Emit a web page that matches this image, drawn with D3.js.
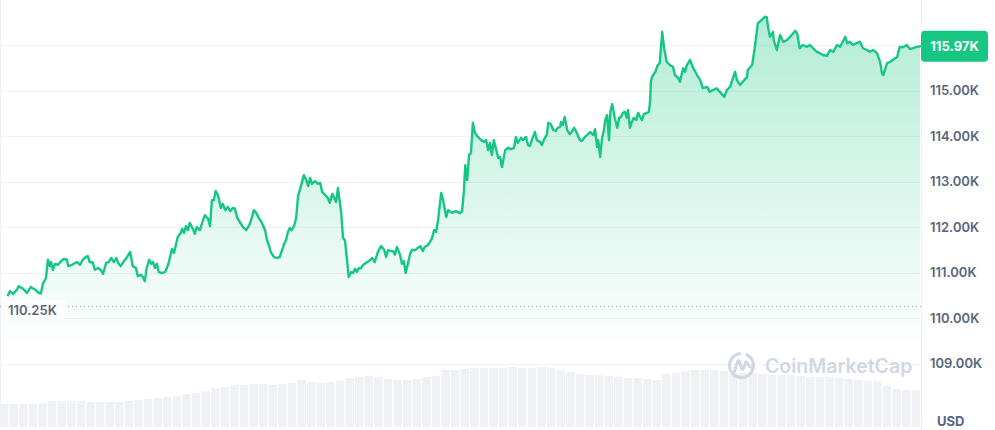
<!DOCTYPE html>
<html>
<head>
<meta charset="utf-8">
<script src="https://cdn.jsdelivr.net/npm/d3@7"></script>
<style>
  html, body { margin: 0; padding: 0; background: #fff; }
  svg { display: block; font-family: Inter, "Noto Sans", sans-serif; }
</style>
</head>
<body>
<svg id="chart" width="995" height="430"></svg>
<script>
// ---- DATA (minutes since start of 24h window, price in USD) ----
const times = [
  0,3,8,14,17,24,30,36,43,49,
  52,55,60,63,66,68,71,74,79,84,
  88,93,95,101,106,109,114,118,123,126,
  129,134,137,142,147,150,155,159,163,167,
  171,174,178,182,186,193,197,202,205,210,
  213,216,219,223,226,229,232,235,238,243,
  248,251,254,259,262,265,268,272,275,278,
  281,284,287,292,295,298,303,308,311,316,
  319,322,325,328,332,336,339,343,347,351,
  355,358,362,366,371,376,381,385,388,392,
  396,401,406,409,412,415,420,425,429,433,
  436,439,442,445,448,452,455,458,463,467,
  471,474,477,480,485,489,493,496,501,505,
  508,512,515,518,521,526,529,532,535,538,
  542,545,548,551,554,557,561,565,570,575,
  579,584,589,594,597,600,605,608,611,614,
  619,622,625,628,632,635,638,643,647,651,
  655,658,663,666,669,673,676,679,684,687,
  692,695,701,707,714,717,720,722,725,728,
  731,734,737,742,747,752,755,758,761,764,
  767,771,774,777,780,785,790,794,799,802,
  805,810,813,818,821,824,827,832,835,840,
  843,846,851,853,857,861,865,868,872,873,
  876,879,883,887,890,894,898,903,906,911,
  916,919,924,927,930,932,935,938,941,943,
  946,949,951,954,958,962,965,968,971,974,
  977,979,982,985,988,992,995,998,1001,1004,
  1009,1012,1014,1015,1017,1022,1026,1029,1033,1036,
  1040,1045,1050,1053,1058,1061,1066,1069,1072,1077,
  1082,1088,1093,1097,1104,1108,1113,1119,1124,1131,
  1135,1140,1148,1151,1156,1160,1167,1168,1175,1179,
  1184,1190,1195,1198,1200,1203,1208,1209,1214,1219,
  1224,1230,1235,1243,1246,1250,1255,1262,1266,1271,
  1277,1282,1287,1293,1298,1303,1309,1314,1322,1325,
  1329,1334,1340,1345,1350,1356,1361,1366,1372,1377,
  1380,1382,1388,1393,1397,1404,1408,1413,1419,1424,
  1429,1435,1440
];
const prices = [
  110500,110590,110530,110620,110700,110640,110550,110680,110620,110550,
  110540,110750,110880,111280,111140,111230,111060,111190,111170,111250,
  111300,111280,111140,111170,111210,111230,111170,111280,111340,111360,
  111230,111220,111060,111100,111050,110970,111210,111230,111320,111230,
  111320,111210,111140,111230,111300,111450,111140,111100,110920,110950,
  110900,110810,111100,111280,111190,111230,111100,111190,111010,110990,
  111010,111100,111230,111520,111430,111600,111780,111850,111960,111870,
  112020,111930,112090,111960,111850,112000,111930,112150,112260,112180,
  112020,112590,112590,112790,112680,112420,112510,112370,112440,112350,
  112420,112410,112200,112110,112000,111930,112040,112200,112370,112310,
  112200,112090,111930,111710,111600,111450,111340,111320,111340,111500,
  111630,111710,111890,111980,111930,112040,112200,112680,112920,113140,
  113030,112900,113080,112950,113010,112950,112970,112770,112700,112640,
  112530,112730,112640,112550,112860,112330,111760,111710,111320,110900,
  111010,110990,111080,111010,111100,111090,111170,111210,111250,111320,
  111230,111450,111580,111500,111340,111490,111470,111470,111390,111560,
  111390,111190,111250,110990,111230,111410,111500,111490,111540,111580,
  111470,111560,111600,111670,111740,111930,111890,112150,112750,112590,
  112220,112370,112310,112350,112300,112350,112810,113360,113030,113580,
  113630,114290,114070,113980,113910,113870,113910,113690,113850,113580,
  113910,113690,113520,113540,113320,113690,113740,113710,113740,113980,
  113850,113960,113910,113980,113800,113780,113910,114090,113910,113870,
  113800,113910,114040,114290,114260,114130,114110,114180,114200,114310,
  114240,114420,114130,114040,114090,114180,114070,113910,113890,113980,
  114040,114090,114020,114150,113760,113910,113540,113960,114130,114350,
  114460,113910,114530,114700,114400,114180,114400,114420,114510,114530,
  114400,114570,114180,114310,114400,114350,114510,114420,114350,114480,
  114510,114530,114790,115190,115300,115410,115560,115600,116290,115930,
  115630,115560,115520,115340,115280,115190,115490,115410,115560,115670,
  115490,115340,115230,115050,115080,114970,115010,115050,114970,114860,
  115010,115080,115410,115230,115120,115190,115300,115450,115560,115930,
  116480,116550,116620,116610,116400,116180,116290,116110,115890,116220,
  116070,116110,116180,116310,116260,115930,116000,115960,116000,115930,
  115850,115820,115780,115760,115890,115850,116000,115960,116180,116040,
  116070,116000,116040,116070,115930,115890,115850,115890,115820,115630,
  115380,115340,115600,115630,115670,115740,115960,115950,116000,115910,
  115930,115960,115970
];
// trading volume per 15-minute bucket (relative units)
const volumes = [
  23,23,23,23,24,26,26,26,26,25,25,25,25,26,27,28,29,30,31,33,
  34,36,39,40,42,42,43,43,42,43,44,47,45,44,45,46,49,50,51,50,
  48,47,47,48,50,51,57,57,58,59,59,59,59,60,59,59,60,59,57,55,
  53,52,52,51,50,49,49,48,47,53,54,56,57,57,57,56,54,54,54,53,
  52,52,52,51,50,50,50,49,48,47,46,46,41,38,37,37
];
const yTickValues = [109000,110000,111000,112000,113000,114000,115000];
const gridValues  = [109000,110000,111000,112000,113000,114000,115000,116000];
const openPrice = 110250;
const lastPrice = 115970;
const currencyLabel = "USD";
const watermarkText = "CoinMarketCap";

// ---- LAYOUT ----
const W = 995, H = 430;
const plotRight = 921;
const chartBottom = 427;
const green = "#16c784";
const labelGrey = "#58667e";
const gridGrey = "#eff2f5";

const fmtK = v => (v / 1000).toFixed(2) + "K";

const svg = d3.select("#chart");
svg.append("rect").attr("width", W).attr("height", H).attr("fill", "#fff");

const x = d3.scaleLinear().domain([0, 1440]).range([8, 920]);
const y = d3.scaleLinear().domain([109000, 116000]).range([363.5, 45]);

const data = times.map((t, i) => ({ t, p: prices[i] }));

// gradient
const defs = svg.append("defs");
const grad = defs.append("linearGradient")
  .attr("id", "areaGrad")
  .attr("gradientUnits", "userSpaceOnUse")
  .attr("x1", 0).attr("x2", 0)
  .attr("y1", y(d3.max(prices))).attr("y2", y(109300));
grad.append("stop").attr("offset", "0%").attr("stop-color", green).attr("stop-opacity", 0.33);
grad.append("stop").attr("offset", "100%").attr("stop-color", green).attr("stop-opacity", 0.0);

// gridlines
svg.append("g").selectAll("line").data(gridValues).join("line")
  .attr("x1", 0).attr("x2", plotRight)
  .attr("y1", d => Math.round(y(d)) + 0.5)
  .attr("y2", d => Math.round(y(d)) + 0.5)
  .attr("stroke", gridGrey).attr("stroke-width", 1);

// borders
svg.append("line").attr("x1", 0.5).attr("x2", 0.5).attr("y1", 0).attr("y2", chartBottom)
  .attr("stroke", gridGrey);
svg.append("line").attr("x1", plotRight + 0.5).attr("x2", plotRight + 0.5).attr("y1", 0).attr("y2", H)
  .attr("stroke", gridGrey);

// area
const area = d3.area()
  .x(d => x(d.t))
  .y0(y(109300))
  .y1(d => y(d.p));
svg.append("path").datum(data).attr("d", area).attr("fill", "url(#areaGrad)");

// volume bars
const xv = d3.scaleBand().domain(d3.range(volumes.length)).range([0, 920]).paddingInner(0.12);
const hv = d3.scaleLinear().domain([0, 60]).range([0, 60]);
svg.append("g").selectAll("rect").data(volumes).join("rect")
  .attr("x", (d, i) => xv(i))
  .attr("width", xv.bandwidth())
  .attr("y", d => chartBottom - hv(d))
  .attr("height", d => hv(d))
  .attr("fill", "#eff1f5");

// dotted open-price line
svg.append("line")
  .attr("x1", 0).attr("x2", plotRight)
  .attr("y1", y(openPrice)).attr("y2", y(openPrice))
  .attr("stroke", "#8f97a8").attr("stroke-width", 1)
  .attr("stroke-dasharray", "1,3");

// watermark
const wm = svg.append("g").attr("fill", "none").attr("stroke", "#d2d8e3");
const cx = 741.5, cy = 365.5, r = 12;
wm.append("path")
  .attr("d", d3.arc()({ innerRadius: r - 1.6, outerRadius: r + 1.6, startAngle: 0.35, endAngle: 2 * Math.PI - 0.05 }))
  .attr("transform", `translate(${cx},${cy})`)
  .attr("fill", "#d2d8e3").attr("stroke", "none");
wm.append("path")
  .attr("d", `M${cx - 7},${cy + 6} L${cx - 4},${cy - 4} Q${cx - 3},${cy - 6} ${cx - 2},${cy - 4} L${cx},${cy + 3} Q${cx + 1},${cy + 5} ${cx + 2},${cy + 3} L${cx + 4},${cy - 3} Q${cx + 5},${cy - 5} ${cx + 6},${cy - 2} Q${cx + 8},${cy + 3} ${cx + 12},${cy + 1}`)
  .attr("stroke-width", 3).attr("stroke-linecap", "round").attr("stroke-linejoin", "round");
svg.append("text")
  .attr("x", 765).attr("y", 372.5)
  .attr("font-size", 19.5).attr("font-weight", 600)
  .attr("fill", "#d2d8e3")
  .text(watermarkText);

// open-price label
const openLbl = svg.append("g");
openLbl.append("rect").attr("x", 4).attr("y", y(openPrice) - 6).attr("width", 61).attr("height", 19).attr("fill", "#fff");
openLbl.append("text")
  .attr("x", 8).attr("y", y(openPrice) + 8)
  .attr("font-size", 13).attr("font-weight", 600).attr("fill", labelGrey)
  .text(fmtK(openPrice));

// price line
const line = d3.line().x(d => x(d.t)).y(d => y(d.p));
svg.append("path").datum(data).attr("d", line)
  .attr("fill", "none").attr("stroke", green).attr("stroke-width", 2.4)
  .attr("stroke-linejoin", "round").attr("stroke-linecap", "round");

// right axis labels
const axis = d3.axisRight(y).tickValues(yTickValues).tickSize(0).tickPadding(9).tickFormat(fmtK);
const ag = svg.append("g").attr("transform", `translate(${plotRight},0)`).call(axis);
ag.select(".domain").remove();
ag.selectAll("text")
  .attr("font-family", "Inter, 'Noto Sans', sans-serif")
  .attr("font-size", 13).attr("font-weight", 600).attr("fill", labelGrey);

// currency label
svg.append("text").attr("x", 937).attr("y", 426)
  .attr("font-size", 13).attr("font-weight", 700).attr("fill", labelGrey)
  .text(currencyLabel);

// last price badge
const by = y(lastPrice);
svg.append("rect").attr("x", plotRight).attr("y", by - 15.5).attr("width", 67).attr("height", 31)
  .attr("rx", 4).attr("fill", green);
svg.append("text").attr("x", plotRight + 33.5).attr("y", by + 4.8)
  .attr("text-anchor", "middle")
  .attr("font-size", 13).attr("font-weight", 700).attr("fill", "#fff")
  .text(fmtK(lastPrice));
</script>
</body>
</html>
